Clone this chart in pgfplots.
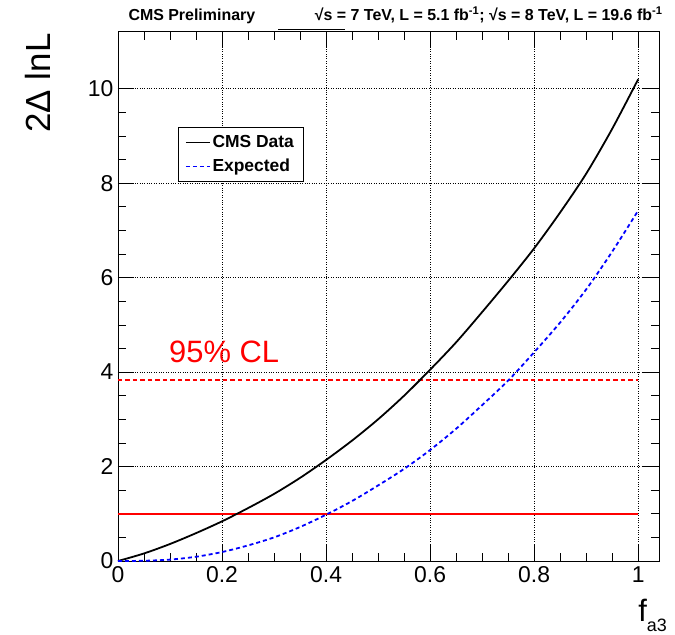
\documentclass[border=0pt]{standalone}
\usepackage{fontspec}
\setmainfont{Liberation Sans}
\usepackage{pgfplots}
\pgfplotsset{compat=1.18}
\definecolor{rootblue}{RGB}{0,0,255}
\definecolor{rootred}{RGB}{255,0,0}
\begin{document}
\begin{tikzpicture}
\begin{axis}[
  scale only axis, width=541bp, height=529bp,
  xmin=0, xmax=1.04, ymin=0, ymax=11.2,
  xtick={0,0.2,0.4,0.6,0.8,1}, ytick={0,2,4,6,8,10},
  xticklabels={0,0.2,0.4,0.6,0.8,1}, yticklabels={0,2,4,6,8,10},
  minor x tick num=3, minor y tick num=3,
  tick align=inside, xtick pos=both, ytick pos=both,
  xticklabel pos=lower, yticklabel pos=left,
  major tick length=16bp, minor tick length=8bp,
  tick style={black, line width=0.6pt},
  ticklabel style={font=\fontsize{23}{27}\selectfont},
  /pgf/number format/assume math mode=true,
  xticklabel style={yshift=-2bp},
  yticklabel style={xshift=-1bp},
  grid=major, major grid style={black, dotted, line width=0.6pt},
  axis line style={line width=1pt},
  clip=false,
  legend style={at={(axis cs:0.115,9.18)}, anchor=north west, draw=black,
    font=\bfseries\fontsize{17.5}{20}\selectfont, inner xsep=7bp, inner ysep=6bp,
    row sep=6bp, cells={anchor=west}},
  legend image code/.code={\draw[#1, line width=1.5pt] (0bp,0bp) -- (24bp,0bp);},
]
\coordinate (O) at (rel axis cs:0,0);
\addplot[color=rootred, line width=1.6pt] coordinates {(0,1) (1,1)};
\addplot[color=rootred, line width=1.8pt, dash pattern=on 4.5bp off 3bp] coordinates {(0,3.84) (1,3.84)};
\addplot[color=black, line width=1.8pt, smooth] coordinates {
(0,0) (0.05,0.16) (0.1,0.36) (0.15,0.59) (0.2,0.84) (0.25,1.12) (0.3,1.42) (0.35,1.76)
(0.4,2.14) (0.45,2.55) (0.5,3.0) (0.55,3.5) (0.6,4.05) (0.65,4.63) (0.7,5.27) (0.75,5.93)
(0.8,6.62) (0.85,7.38) (0.9,8.2) (0.95,9.15) (1.0,10.2)};
\addplot[color=rootblue, line width=1.8pt, dash pattern=on 4bp off 3bp, smooth] coordinates {
(0,0) (0.05,0.005) (0.1,0.03) (0.15,0.09) (0.2,0.19) (0.25,0.33) (0.3,0.5) (0.35,0.72)
(0.4,0.98) (0.45,1.27) (0.5,1.6) (0.55,1.95) (0.6,2.35) (0.65,2.8) (0.7,3.3) (0.75,3.82)
(0.8,4.42) (0.85,5.05) (0.9,5.75) (0.95,6.55) (1.0,7.42)};
\legend{,,CMS Data,Expected}
\node[text=rootred, font=\fontsize{31}{35}\selectfont] at (axis cs:0.204,4.42) {95\% CL};
\node[anchor=base west, font=\bfseries\fontsize{16}{18}\selectfont] at ([xshift=7bp, yshift=11bp]rel axis cs:0,1) {CMS Preliminary};
\node[anchor=base east, font=\bfseries\fontsize{16}{18}\selectfont] at ([xshift=7bp, yshift=11bp]rel axis cs:1,1) {√s = 7 TeV, L = 5.1 fb\textsuperscript{-1}; √s = 8 TeV, L = 19.6 fb\textsuperscript{-1}};
\draw[black, line width=0.8pt] ([yshift=3bp]rel axis cs:0.296,1) -- ([yshift=3bp]rel axis cs:0.42,1);
\node[rotate=90, anchor=east, font=\fontsize{35}{40}\selectfont] at ([xshift=-80bp, yshift=2bp]rel axis cs:0,1) {2Δ lnL};
\node[anchor=north east, font=\fontsize{31}{35}\selectfont, inner sep=0pt] at ([xshift=8bp, yshift=-38bp]rel axis cs:1,0) {f\raisebox{-10bp}{\fontsize{18}{20}\selectfont a3}};
\end{axis}
\pgfresetboundingbox
\path[use as bounding box] ([xshift=-118bp, yshift=-74bp]O) rectangle ++(675bp,635bp);
\end{tikzpicture}
\end{document}
